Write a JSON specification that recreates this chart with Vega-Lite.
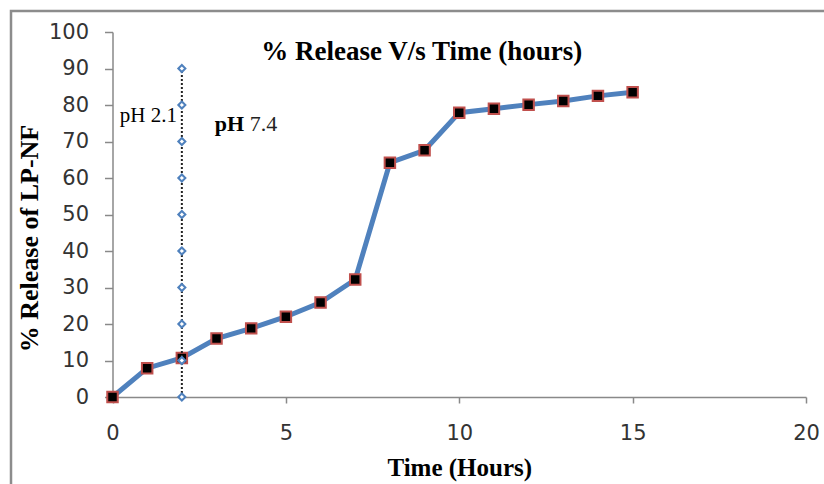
{
  "$schema": "https://vega.github.io/schema/vega-lite/v6.json",
  "autosize": {"type": "none"},
  "width": 824,
  "height": 484,
  "padding": {"left": 11, "top": 11, "right": 0, "bottom": 0},
  "background": "white",
  "config": {
    "view": {"stroke": "#8c8c8c", "strokeWidth": 2.5},
    "axis": {
      "grid": false,
      "labelFlush": false,
      "domainColor": "#898989",
      "tickColor": "#898989",
      "domainWidth": 1.5,
      "tickWidth": 1.5,
      "labelFont": "DejaVu Sans",
      "labelFontSize": 21,
      "labelColor": "#333333",
      "titleFont": "Liberation Serif",
      "titleFontWeight": "bold",
      "titleColor": "black"
    }
  },
  "datasets": {
    "release": [
      {"time": 0, "release": 0},
      {"time": 1, "release": 7.9},
      {"time": 2, "release": 10.7},
      {"time": 3, "release": 16.0},
      {"time": 4, "release": 18.8},
      {"time": 5, "release": 22.0},
      {"time": 6, "release": 25.9},
      {"time": 7, "release": 32.2},
      {"time": 8, "release": 64.2},
      {"time": 9, "release": 67.6},
      {"time": 10, "release": 77.9},
      {"time": 11, "release": 79.0},
      {"time": 12, "release": 80.1},
      {"time": 13, "release": 81.1},
      {"time": 14, "release": 82.5},
      {"time": 15, "release": 83.5}
    ],
    "phChange": [
      {"time": 2, "release": 0},
      {"time": 2, "release": 10},
      {"time": 2, "release": 20},
      {"time": 2, "release": 30},
      {"time": 2, "release": 40},
      {"time": 2, "release": 50},
      {"time": 2, "release": 60},
      {"time": 2, "release": 70},
      {"time": 2, "release": 80},
      {"time": 2, "release": 90}
    ],
    "notes": [
      {"time": 8.92, "release": 94.5, "label": "% Release V/s Time (hours)", "kind": "title"},
      {"time": 0.21, "release": 77.0, "label": "pH 2.1", "kind": "acid"},
      {"time": 2.95, "release": 74.8, "label": "pH", "kind": "neutralUnit"},
      {"time": 3.96, "release": 74.8, "label": "7.4", "kind": "neutralValue"}
    ]
  },
  "encoding": {
    "x": {
      "field": "time",
      "type": "quantitative",
      "scale": {"domain": [0, 20], "range": [101.5, 795]},
      "axis": {
        "values": [0, 5, 10, 15, 20],
        "offset": -98,
        "title": "Time (Hours)",
        "titleFontSize": 25,
        "tickSize": 6,
        "labelPadding": 19,
        "titlePadding": 12
      }
    },
    "y": {
      "field": "release",
      "type": "quantitative",
      "scale": {"domain": [0, 100], "range": [386, 21]},
      "axis": {
        "values": [0, 10, 20, 30, 40, 50, 60, 70, 80, 90, 100],
        "offset": -101.5,
        "title": "% Release of LP-NF",
        "titleFontSize": 26,
        "tickSize": 8,
        "labelPadding": 16,
        "titlePadding": 6,
        "titleY": 227
      }
    }
  },
  "layer": [
    {
      "data": {"name": "release"},
      "mark": {"type": "line", "color": "#4f81bd", "strokeWidth": 5},
      "encoding": {}
    },
    {
      "data": {"name": "release"},
      "mark": {"type": "square", "filled": true, "color": "black", "stroke": "#c0504d", "strokeWidth": 2, "size": 110, "opacity": 1},
      "encoding": {}
    },
    {
      "data": {"name": "phChange"},
      "mark": {"type": "line", "color": "#222222", "strokeWidth": 2, "strokeDash": [2, 2]},
      "encoding": {}
    },
    {
      "data": {"name": "phChange"},
      "mark": {"type": "point", "shape": "diamond", "filled": true, "fill": "white", "stroke": "#4f81bd", "strokeWidth": 2, "size": 50, "opacity": 1},
      "encoding": {}
    },
    {
      "data": {"name": "notes"},
      "transform": [{"filter": "datum.kind === 'title'"}],
      "mark": {"type": "text", "font": "Liberation Serif", "fontWeight": "bold", "fontSize": 27, "color": "black"},
      "encoding": {"text": {"field": "label"}}
    },
    {
      "data": {"name": "notes"},
      "transform": [{"filter": "datum.kind === 'acid'"}],
      "mark": {"type": "text", "align": "left", "font": "Liberation Serif", "fontSize": 21, "color": "black"},
      "encoding": {"text": {"field": "label"}}
    },
    {
      "data": {"name": "notes"},
      "transform": [{"filter": "datum.kind === 'neutralUnit'"}],
      "mark": {"type": "text", "align": "left", "font": "Liberation Serif", "fontWeight": "bold", "fontSize": 22, "color": "black"},
      "encoding": {"text": {"field": "label"}}
    },
    {
      "data": {"name": "notes"},
      "transform": [{"filter": "datum.kind === 'neutralValue'"}],
      "mark": {"type": "text", "align": "left", "font": "Liberation Serif", "fontSize": 22, "color": "#222222"},
      "encoding": {"text": {"field": "label"}}
    }
  ]
}
